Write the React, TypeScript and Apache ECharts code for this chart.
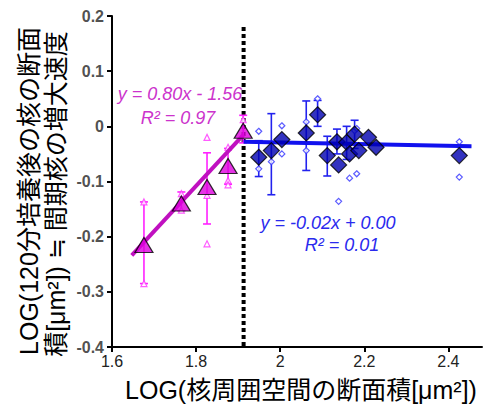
import React, { useEffect, useRef } from "react";
import * as echarts from "echarts";

// ---- data ----
const xTicks = [1.6, 1.8, 2.0, 2.2, 2.4];
const boundaryX = 1.913;

// magenta (before boundary): mean points
const magX = [1.676, 1.765, 1.826, 1.876, 1.912];
const magY = [-0.215, -0.14, -0.11, -0.072, -0.008];
const magErrHi = [-0.137, -0.119, -0.048, -0.04, 0.02];
const magErrLo = [-0.285, -0.153, -0.177, -0.105, -0.03];
// magenta replicates
const magRepX = [1.676, 1.676, 1.765, 1.765, 1.826, 1.826, 1.826, 1.876, 1.876, 1.876, 1.912];
const magRepY = [-0.137, -0.285, -0.122, -0.152, -0.02, -0.213, -0.125, -0.038, -0.098, -0.106, 0.012];
// magenta regression line endpoints
const magFitX = [1.647, 1.913];
const magFitY = [-0.234, -0.015];

// blue (after boundary): mean points
const bluX = [1.949, 1.979, 2.004, 2.062, 2.089, 2.112, 2.139, 2.135, 2.158, 2.165, 2.177, 2.187, 2.21, 2.228, 2.426];
const bluY = [-0.056, -0.044, -0.024, -0.012, 0.021, -0.053, -0.07, -0.028, -0.029, -0.05, -0.014, -0.044, -0.02, -0.038, -0.053];
// blue error bars (subset)
const bluErrX = [1.949, 1.979, 2.062, 2.089, 2.112, 2.135, 2.158, 2.177];
const bluErrHi = [-0.026, 0.023, 0.046, 0.047, -0.018, -0.005, 0.0, 0.011];
const bluErrLo = [-0.091, -0.124, -0.08, 0.0, -0.09, -0.05, -0.06, -0.04];
// blue replicates
const bluRepX = [1.949, 1.949, 1.979, 2.004, 2.004, 2.062, 2.062, 2.089, 2.139, 2.165, 2.177, 2.182, 2.182, 2.426, 2.426];
const bluRepY = [-0.009, -0.077, -0.064, 0.001, -0.05, 0.008, -0.044, 0.05, -0.136, -0.094, -0.008, -0.086, -0.004, -0.028, -0.092];
// blue regression line endpoints
const bluFitX = [1.913, 2.455];
const bluFitY = [-0.028, -0.036];
// y tick values
const yTicks = [0.2, 0.1, 0, -0.1, -0.2, -0.3, -0.4];

const FONT = "'Liberation Sans', Arial, 'Noto Sans CJK JP', sans-serif";
const MAG_TEXT = "#cc33cc";
const BLUE_TEXT = "#2a2aee";

function errRender(color: string) {
  return (params: any, api: any) => {
    const x = api.value(0);
    const hi = api.coord([x, api.value(1)]);
    const lo = api.coord([x, api.value(2)]);
    const w = 4;
    const style = { stroke: color, lineWidth: 1.6 };
    return {
      type: "group",
      children: [
        { type: "line", shape: { x1: hi[0], y1: hi[1], x2: lo[0], y2: lo[1] }, style },
        { type: "line", shape: { x1: hi[0] - w, y1: hi[1], x2: hi[0] + w, y2: hi[1] }, style },
        { type: "line", shape: { x1: lo[0] - w, y1: lo[1], x2: lo[0] + w, y2: lo[1] }, style },
      ],
    };
  };
}

export default function App() {
  const ref = useRef<HTMLDivElement>(null);
  useEffect(() => {
    if (!ref.current) return;
    const chart = echarts.init(ref.current, undefined, { renderer: "svg" });
    const zip = (a: number[], b: number[]) => a.map((v, i) => [v, b[i]]);
    chart.setOption({
      animation: false,
      backgroundColor: "#ffffff",
      grid: { left: 112, right: 1, top: 16, bottom: 57, containLabel: false },
      xAxis: {
        type: "value",
        min: 1.6,
        max: 2.48,
        interval: 0.2,
        splitLine: { show: false },
        axisLine: { show: true, onZero: false, lineStyle: { color: "#000", width: 2 } },
        axisTick: { show: true, length: 5, lineStyle: { color: "#000", width: 2 }, customValues: xTicks },
        axisLabel: {
          customValues: xTicks,
          color: "#222",
          fontSize: 16,
          fontFamily: FONT,
          margin: 6,
          formatter: (v: number) => String(parseFloat(v.toFixed(1))),
        },
      },
      yAxis: {
        type: "value",
        min: -0.4,
        max: 0.2,
        interval: 0.1,
        splitLine: { show: false },
        axisLine: { show: true, onZero: false, lineStyle: { color: "#000", width: 2 } },
        axisTick: { show: true, length: 5, lineStyle: { color: "#000", width: 2 } },
        axisLabel: { show: false },
      },
      series: [
        {
          type: "line",
          data: [[boundaryX, 0.18], [boundaryX, -0.4]],
          symbol: "none",
          lineStyle: { color: "#000", width: 4, type: [4, 3] },
          z: 1,
        },
        {
          type: "scatter",
          data: yTicks.map((v) => [1.6, v]),
          symbolSize: 0,
          silent: true,
          label: {
            show: true,
            position: "left",
            distance: 8,
            color: "#222",
            fontSize: 16,
            fontWeight: "bold",
            fontFamily: FONT,
            formatter: (p: any) => String(parseFloat(p.value[1].toFixed(1))),
          },
          clip: false,
          z: 1,
        },
        {
          type: "custom",
          renderItem: errRender("#ff22ff"),
          data: magX.map((x, i) => [x, magErrHi[i], magErrLo[i]]),
          encode: { x: 0, y: [1, 2] },
          z: 2,
        },
        {
          type: "custom",
          renderItem: errRender("#2222ee"),
          data: bluErrX.map((x, i) => [x, bluErrHi[i], bluErrLo[i]]),
          encode: { x: 0, y: [1, 2] },
          z: 2,
        },
        {
          type: "scatter",
          data: zip(magRepX, magRepY),
          symbol: "triangle",
          symbolSize: 6,
          itemStyle: { color: "#fff", borderColor: "#ff33ff", borderWidth: 1.2 },
          z: 3,
        },
        {
          type: "scatter",
          data: zip(bluRepX, bluRepY),
          symbol: "diamond",
          symbolSize: 6,
          itemStyle: { color: "#fff", borderColor: "#3333ff", borderWidth: 1.2 },
          z: 3,
        },
        {
          type: "line",
          data: zip(magFitX, magFitY),
          symbol: "none",
          lineStyle: { color: "#c010c0", width: 4 },
          z: 4,
        },
        {
          type: "line",
          data: zip(bluFitX, bluFitY),
          symbol: "none",
          lineStyle: { color: "#1111ee", width: 4 },
          z: 4,
        },
        {
          type: "scatter",
          data: zip(magX, magY),
          symbol: "triangle",
          symbolSize: [18, 15],
          itemStyle: { color: "#dd00dd", borderColor: "#000", borderWidth: 1.2 },
          z: 5,
        },
        {
          type: "scatter",
          data: zip(bluX, bluY),
          symbol: "diamond",
          symbolSize: 16,
          itemStyle: { color: "#0000b0", borderColor: "#000", borderWidth: 1.2 },
          z: 5,
        },
      ],
      graphic: [
        {
          type: "text",
          x: 180,
          y: 94,
          style: {
            text: "y = 0.80x - 1.56",
            fill: MAG_TEXT,
            font: `italic 18px ${FONT}`,
            textAlign: "center",
            textVerticalAlign: "middle",
          },
        },
        {
          type: "text",
          x: 178,
          y: 118,
          style: {
            text: "R² = 0.97",
            fill: MAG_TEXT,
            font: `italic 18px ${FONT}`,
            textAlign: "center",
            textVerticalAlign: "middle",
          },
        },
        {
          type: "text",
          x: 328,
          y: 223,
          style: {
            text: "y = -0.02x + 0.00",
            fill: BLUE_TEXT,
            font: `italic 18px ${FONT}`,
            textAlign: "center",
            textVerticalAlign: "middle",
          },
        },
        {
          type: "text",
          x: 342,
          y: 245,
          style: {
            text: "R² = 0.01",
            fill: BLUE_TEXT,
            font: `italic 18px ${FONT}`,
            textAlign: "center",
            textVerticalAlign: "middle",
          },
        },
        {
          type: "text",
          x: 301,
          y: 390,
          style: {
            text: "LOG(核周囲空間の断面積[μm²])",
            fill: "#000",
            font: `25px ${FONT}`,
            textAlign: "center",
            textVerticalAlign: "middle",
          },
        },
        {
          type: "text",
          x: 29,
          y: 191,
          rotation: Math.PI / 2,
          style: {
            text: "LOG(120分培養後の核の断面",
            fill: "#000",
            font: `25px ${FONT}`,
            textAlign: "center",
            textVerticalAlign: "middle",
          },
        },
        {
          type: "text",
          x: 56,
          y: 194,
          rotation: Math.PI / 2,
          style: {
            text: "積[μm²]) ≒ 間期核の増大速度",
            fill: "#000",
            font: `25px ${FONT}`,
            textAlign: "center",
            textVerticalAlign: "middle",
          },
        },
      ],
    });
    return () => chart.dispose();
  }, []);
  return (
    <div
      ref={ref}
      style={{ position: "fixed", left: 0, top: 0, width: 483, height: 404 }}
    />
  );
}
